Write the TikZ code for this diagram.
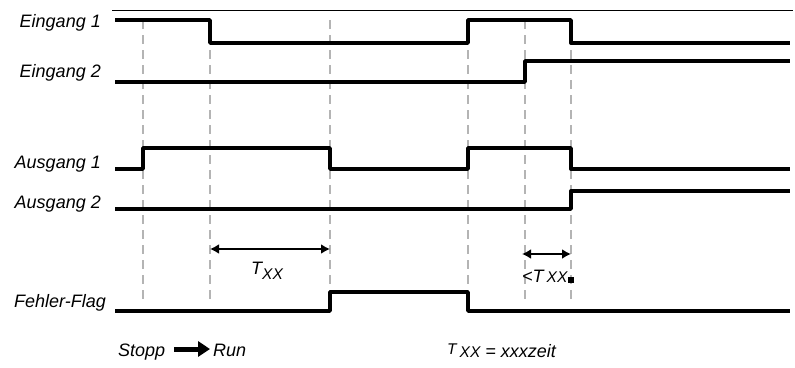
\documentclass[tikz,border=0pt]{standalone}
\usepackage{fontspec}
\setmainfont{Liberation Sans}
\usetikzlibrary{arrows.meta}
\definecolor{grid}{HTML}{B4B4B4}
\definecolor{ink}{HTML}{000000}

\newcommand{\subtxt}[1]{{\fontsize{15.5}{15.5}\selectfont #1}}

\begin{document}
\begin{tikzpicture}[x=1pt, y=-1pt, font=\fontsize{18}{21}\selectfont\itshape, >={Latex[length=9pt,width=10pt]},
    signal/.style={draw=ink, line width=3.4pt, line join=round},
    marker/.style={draw=grid, line width=1.8pt, dash pattern=on 9pt off 6pt},
    lbl/.style={anchor=base east, inner sep=0pt},
    txt/.style={anchor=base west, inner sep=0pt},
    span/.style={<->, line width=2.4pt}]

  \useasboundingbox (0,0) rectangle (795,367);

  % frame line
  \draw[line width=0.9pt] (112,10) -- (793,10);

  % time marks
  \foreach \t/\n in {143/a, 210/b, 330/c, 468/d, 525/e, 571/f} {
    \coordinate (top-\n) at (\t,20);
    \coordinate (bot-\n) at (\t,303);
    \draw[marker] (top-\n) -- (bot-\n);
  }

  % signal names
  \node[lbl] (in1) at (101,27) {Eingang 1};
  \node[lbl] (in2) at (101,77) {Eingang 2};
  \node[lbl] (out1) at (101,168) {Ausgang 1};
  \node[lbl] (out2) at (101,208) {Ausgang 2};
  \node[lbl] (flag) at (106,307) {Fehler-Flag};

  % waveforms
  \draw[signal] (115,20) -| (210,43) -| (468,20) -| (571,43) -- (790,43);
  \draw[signal] (115,82) -| (525,61) -- (790,61);
  \draw[signal] (115,169) -| (143,148) -| (330,169) -| (468,148) -| (571,169) -- (790,169);
  \draw[signal] (115,209) -| (571,191) -- (790,191);
  \draw[signal] (115,311) -| (330,292) -| (468,311) -- (790,311);

  % time spans
  \coordinate (s1) at (210,249);
  \coordinate (e1) at (330,249);
  \draw[span] (s1) -- (e1);
  \node[txt] (txx) at (251,274) {T\raisebox{-5pt}{\subtxt{XX}}};

  \coordinate (s2) at (522,254);
  \coordinate (e2) at (571,254);
  \draw[span] (s2) -- (e2);
  \node[txt] (ltxx) at (522,282) {<T\,\subtxt{XX}};
  \node[fill=ink, minimum size=5.5pt, inner sep=0pt] (dot) at (571,280) {};

  % legend
  \node[txt] (stopp) at (118,356) {Stopp};
  \node[txt] (run) at (213,356) {Run};
  \coordinate (arr) at (0,349);
  \draw[line width=5pt, -{Triangle[length=12pt,width=15pt]}] ([xshift=9pt]stopp.east |- arr) -- ([xshift=-3pt]run.west |- arr);
  \node[txt] (tdef) at (447,354) {\subtxt{T}\,\raisebox{-3pt}{\subtxt{XX}} \raisebox{-3pt}{= xxxzeit}};
\end{tikzpicture}
\end{document}
